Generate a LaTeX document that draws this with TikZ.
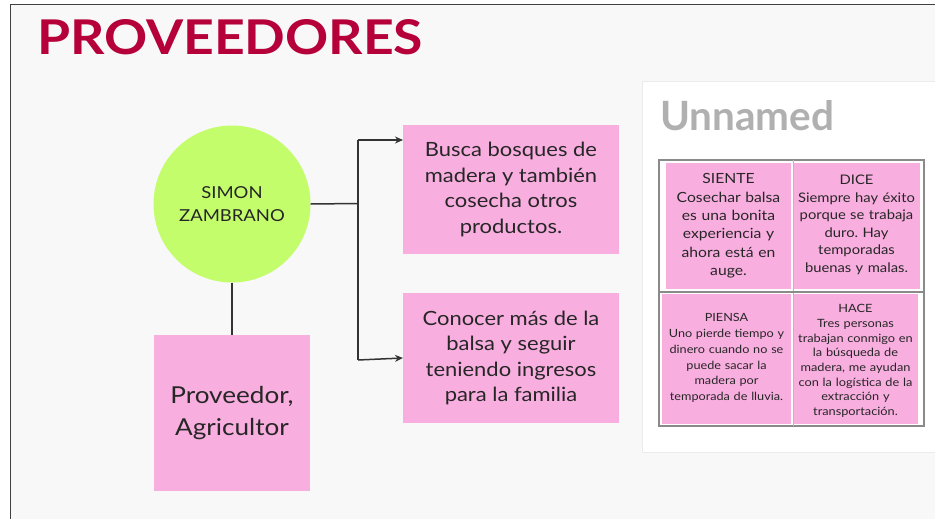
\documentclass[tikz,border=0pt]{standalone}
\usepackage{fontspec}
\setmainfont{Lato}[FakeStretch=1.12]
\usetikzlibrary{arrows.meta}
\frenchspacing
\definecolor{bgc}{HTML}{F8F8F8}
\definecolor{pinkc}{HTML}{F9AEE0}
\definecolor{greenc}{HTML}{C3FD6B}
\definecolor{titlec}{HTML}{B5003A}
\definecolor{txtc}{HTML}{262626}
\definecolor{linec}{HTML}{333333}
\definecolor{unnc}{HTML}{B0B0B0}
\definecolor{tabc}{HTML}{8A8A8A}
\begin{document}
\begin{tikzpicture}[x=1pt,y=-1pt,
  pinkbox/.style={rectangle, fill=pinkc, inner sep=0pt, align=center, text=txtc},
  cellbox/.style={rectangle, fill=pinkc, inner sep=0pt},
  celltext/.style={align=center, text=txtc, inner sep=0pt, text width=126pt},
  conn/.style={draw=linec, line width=1.5pt},
  arr/.style={conn, -{Stealth[length=8pt,width=7pt]}}]
\useasboundingbox (0,0) rectangle (935,519);
\fill[white] (0,0) rectangle (935,519);
\fill[bgc] (10.5,4.5) rectangle (935,519);
\draw[line width=1.6pt, draw=black!75] (10.5,519) -- (10.5,4.5) -- (935,4.5);

% title
\node[anchor=base west, inner sep=0pt, text=titlec] (title) at (37,54.5)
  {\resizebox{386pt}{35pt}{\bfseries PROVEEDORES}};

% main diagram
\node[circle, fill=greenc, minimum size=157pt, inner sep=0pt, align=center, text=txtc,
  font=\fontsize{16.5}{23}\selectfont] (simon) at (232,204) {SIMON\\ZAMBRANO};
\node[pinkbox, minimum width=156pt, minimum height=156pt,
  font=\fontsize{23.3}{32}\selectfont] (prov) at (232,413) {Proveedor,\\Agricultor};
\node[pinkbox, minimum width=216pt, minimum height=129pt,
  font=\fontsize{19.6}{25.5}\selectfont] (b1) at (511,189.5)
  {Busca bosques de\\madera y también\\cosecha otros\\productos.};
\node[pinkbox, minimum width=216pt, minimum height=130pt,
  font=\fontsize{19.6}{25.5}\selectfont] (b2) at (511,358)
  {Conocer más de la\\balsa y seguir\\teniendo ingresos\\para la familia};

\draw[conn] (simon.south) -- (prov.north);
\coordinate (j) at (358,203.5);
\coordinate (jt) at (358,140);
\coordinate (jb) at (358,360);
\coordinate (in1) at (403,140);
\coordinate (in2) at (403,358);
\draw[conn] (simon.east) -- (j);
\draw[conn] (jt) -- (jb);
\draw[arr] (jt) -- (in1);
\draw[arr] (jb) -- (in2);

% right panel
\draw[fill=white, draw=black!8, line width=1pt] (642,82) rectangle (945,452);
\node[anchor=base west, inner sep=0pt, text=unnc] (unn) at (660,130.5)
  {\resizebox{174pt}{30pt}{\bfseries Unnamed}};

\node[cellbox, minimum width=125pt, minimum height=126pt] (c1) at (728.5,226) {};
\node[cellbox, minimum width=127pt, minimum height=126pt] (c2) at (856.5,226) {};
\node[cellbox, minimum width=129pt, minimum height=130pt] (c3) at (726.5,359) {};
\node[cellbox, minimum width=125pt, minimum height=130pt] (c4) at (855.5,359) {};

\node[celltext, font=\fontsize{14}{18.4}\selectfont] (t1) at (c1)
  {SIENTE\\Cosechar balsa\\es una bonita\\experiencia y\\ahora está en\\auge.};
\node[celltext, font=\fontsize{13.2}{17.5}\selectfont] (t2) at ([yshift=1pt]c2.center)
  {DICE\\Siempre hay éxito\\porque se trabaja\\duro. Hay\\temporadas\\buenas y malas.};
\node[celltext, font=\fontsize{11.3}{15.8}\selectfont] (t3) at ([yshift=1pt]c3.center)
  {PIENSA\\Uno pierde tiempo y\\dinero cuando no se\\puede sacar la\\madera por\\temporada de lluvia.};
\node[celltext, font=\fontsize{11.4}{14.7}\selectfont] (t4) at ([yshift=-2pt]c4.center)
  {HACE\\Tres personas\\trabajan conmigo en\\la búsqueda de\\madera, me ayudan\\con la logística de la\\extracción y\\transportación.};

\draw[draw=tabc, line width=1.3pt] (659,160) rectangle (924,426);
\draw[draw=tabc!60, line width=0.6pt] (793,160) -- (793,426);
\draw[draw=tabc, line width=1.3pt] (659,292) -- (924,292);
\end{tikzpicture}
\end{document}
